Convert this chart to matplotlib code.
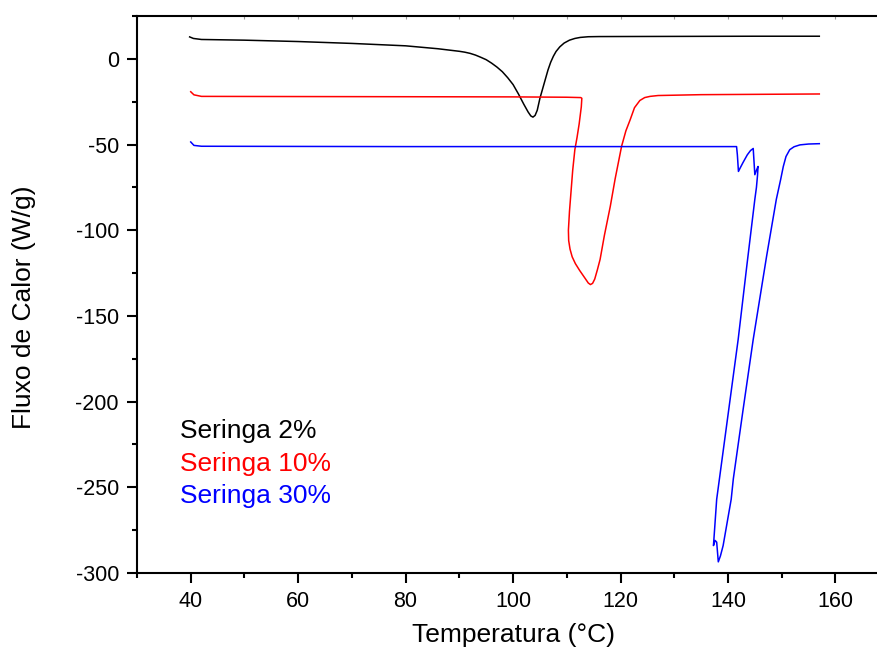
import matplotlib
matplotlib.use("Agg")
import matplotlib.pyplot as plt
from matplotlib.ticker import MultipleLocator

plt.rcParams['font.family'] = ['Liberation Sans', 'DejaVu Sans']
plt.rcParams['axes.unicode_minus'] = False

# Seringa 2%
t_2 = [39.8, 40.5, 42, 50, 60, 70, 80, 86, 90, 91, 92, 93, 94, 95, 96, 97, 98, 99, 100,
       101, 102, 102.8, 103.3, 103.7, 104.1, 104.5, 105, 105.5, 106, 106.5, 107, 107.5,
       108, 108.7, 109.5, 110.5, 111.5, 112.5, 114, 116, 130, 145, 157]
q_2 = [12.8, 11.9, 11.3, 10.9, 10.1, 9.0, 7.6, 5.9, 4.4, 3.9, 3.2, 2.2, 0.9, -0.5, -2.5,
       -4.8, -7.5, -11, -15, -20.5, -26.5, -31, -33.3, -34, -33, -30, -23, -17.5, -12,
       -6.5, -2, 1.5, 4.3, 7, 9.2, 10.9, 11.9, 12.5, 12.9, 13.0, 13.1, 13.2, 13.2]

# Seringa 10%
t_10 = [40, 40.6, 42, 60, 80, 100, 110, 112.6, 112.8, 112.7, 112.3, 111.9, 111.5, 111.1,
        110.8, 110.5, 110.3, 110.35, 110.6, 111.0, 111.6, 112.4, 113.5, 114.0, 114.4,
        114.8, 115.2, 115.7, 116.2, 117, 118.1, 119, 120.2, 121, 121.8, 122.6, 123.6,
        124.5, 125.5, 127, 135, 157]
q_10 = [-19.2, -21.0, -21.9, -22.0, -22.1, -22.2, -22.4, -22.6, -23, -28, -38, -46, -53,
        -65, -77, -89, -100, -106, -111, -115.5, -119.5, -123.5, -128.5, -130.8, -131.7,
        -131, -128.5, -123, -117, -103, -86, -70, -51, -42, -35.5, -28.5, -24.3, -22.6,
        -21.9, -21.4, -20.9, -20.5]

# Seringa 30%
t_30 = [40, 40.6, 42, 60, 80, 100, 120, 141.6, 141.75, 141.95, 142.3, 142.8, 143.6, 144.2,
        144.7, 144.85, 145.0, 145.3, 145.6, 145.5, 145.3, 145.0, 143.5, 141.9, 140.0, 137.9,
        137.3, 137.6, 137.9, 138.2, 138.6, 139.1, 140.6, 141.0, 142.8, 144.7, 147.2, 149.0,
        149.8, 150.3, 150.8, 151.5, 152.3, 153.4, 155, 157]
q_30 = [-48.5, -50.5, -51.0, -51.1, -51.2, -51.2, -51.2, -51.2, -56, -65.7, -63.5, -60.5,
        -56, -53.5, -52.3, -60, -67.6, -65, -62.8, -68, -75, -82, -121, -163.7, -208, -257,
        -284, -281, -282, -293.5, -290, -284, -257, -245, -205, -163.7, -115, -82, -70.5,
        -62.8, -57, -53, -51.3, -50.2, -49.7, -49.5]

series = [(t_2, q_2, 'black', 'Seringa 2%'),
          (t_10, q_10, 'red', 'Seringa 10%'),
          (t_30, q_30, 'blue', 'Seringa 30%')]
label_y = [-217.4, -236.6, -255.2]

fig = plt.figure(figsize=(8.78, 6.57), dpi=100)
ax = fig.add_axes([137 / 878, 84 / 657, 779 / 878, 557 / 657])

for (t, q, c, name), ly in zip(series, label_y):
    ax.plot(t, q, color=c, lw=1.1)
    ax.text(38, ly, name, color=c, fontsize=19, va='center', ha='left')

ax.set_xlim(30, 175)
ax.set_ylim(-300, 25)
ax.xaxis.set_major_locator(MultipleLocator(20))
ax.xaxis.set_minor_locator(MultipleLocator(10))
ax.yaxis.set_major_locator(MultipleLocator(50))
ax.yaxis.set_minor_locator(MultipleLocator(25))

for s in ax.spines.values():
    s.set_linewidth(1.5)
ax.spines['right'].set_visible(False)

ax.tick_params(axis='both', which='major', direction='out', length=7, width=1.5,
               labelsize=15.5, pad=6)
ax.tick_params(axis='both', which='minor', direction='out', length=3.5, width=1.5)
ax.tick_params(axis='x', which='both', top=False)
ax.tick_params(axis='y', which='both', right=False)

# small inward ticks on the top spine
top = ax.secondary_xaxis('top')
top.xaxis.set_major_locator(MultipleLocator(10))
top.tick_params(direction='in', length=2, width=0.8, color='#999999', labeltop=False)
top.spines['top'].set_visible(False)

ax.set_xlabel('Temperatura (°C)', fontsize=19)
ax.set_ylabel('Fluxo de Calor (W/g)', fontsize=19)
ax.xaxis.set_label_coords(0.483, -0.09)
ax.yaxis.set_label_coords(-0.13, 0.478)

fig.savefig('out.png', dpi=100)
